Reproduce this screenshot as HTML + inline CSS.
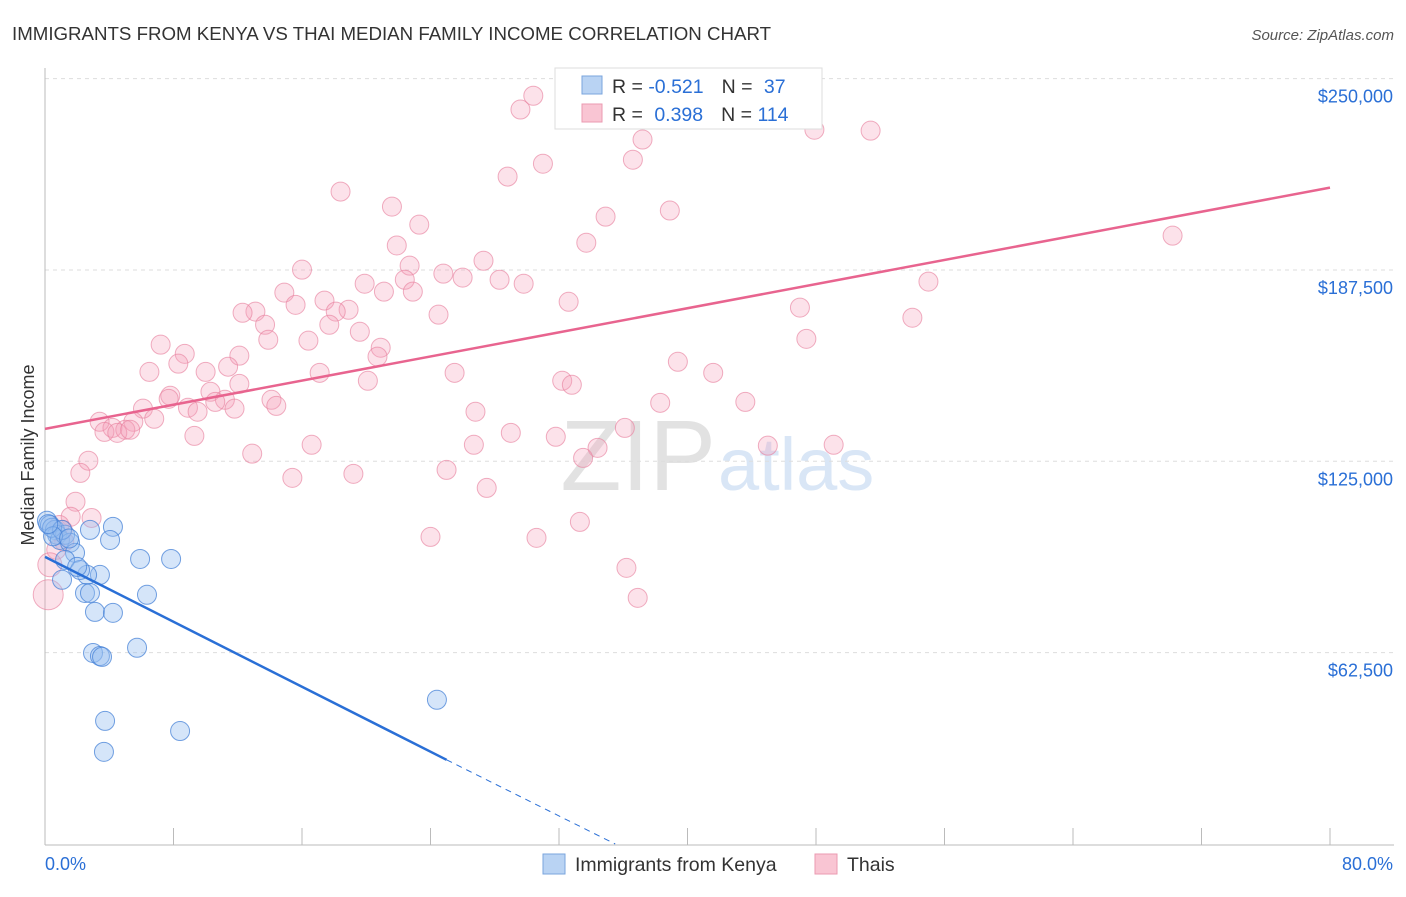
<!DOCTYPE html>
<html><head><meta charset="utf-8">
<style>
body{margin:0;background:#fff;font-family:"Liberation Sans",sans-serif;}
svg text{font-family:"Liberation Sans",sans-serif;}
</style></head>
<body>
<svg id="chart" width="1406" height="892">
  <text x="12" y="40" font-size="18.7" fill="#333">IMMIGRANTS FROM KENYA VS THAI MEDIAN FAMILY INCOME CORRELATION CHART</text>
  <text x="1394" y="40" font-size="15" fill="#555" font-style="italic" text-anchor="end">Source: ZipAtlas.com</text>
  <text x="716" y="490" font-size="100" fill="#e2e2e2" text-anchor="end" font-family="Liberation Serif">ZIP</text>
  <text x="718" y="490" font-size="74" fill="#d9e6f6">atlas</text>
  <text transform="translate(34,455) rotate(-90)" font-size="18" fill="#333" text-anchor="middle">Median Family Income</text>
  <g id="grid"></g>
  <g id="pts"></g>
  <g id="lines"></g>
  <g>
    <rect x="555" y="68" width="267" height="61" fill="#fff" stroke="#ddd"/>
    <rect x="582" y="76" width="20" height="18" fill="#b9d3f3" stroke="#7aa5de"/>
    <rect x="582" y="104" width="20" height="18" fill="#f9c5d3" stroke="#eb9ab0"/>
    <text x="612" y="93" font-size="19.5" fill="#333">R = <tspan fill="#2a6fd6">-0.521</tspan><tspan dx="18">N = </tspan><tspan dx="6" fill="#2a6fd6">37</tspan></text>
    <text x="612" y="121" font-size="19.5" fill="#333">R = <tspan dx="6" fill="#2a6fd6">0.398</tspan><tspan dx="18">N = </tspan><tspan fill="#2a6fd6">114</tspan></text>
  </g>
  <g>
    <rect x="543" y="854" width="22" height="20" fill="#b9d3f3" stroke="#7aa5de"/>
    <text x="575" y="871" font-size="19.5" fill="#333">Immigrants from Kenya</text>
    <rect x="815" y="854" width="22" height="20" fill="#f9c5d3" stroke="#eb9ab0"/>
    <text x="847" y="871" font-size="19.5" fill="#333">Thais</text>
  </g>
  <text x="45" y="870" font-size="18" fill="#2a6fd6">0.0%</text>
  <text x="1393" y="870" font-size="18" fill="#2a6fd6" text-anchor="end">80.0%</text>
</svg>
<script>
const yTicks=[62500,125000,187500,250000];
const yTickLabels=["$62,500","$125,000","$187,500","$250,000"];
const xTicks=[0,8,16,24,32,40,48,56,64,72,80];
const kenyaX=[0.12,0.31,0.62,0.75,0.93,1.25,1.56,0.44,1.06,2.8,4.23,4.05,1.87,1.25,1.06,3.42,2.62,2.18,2.49,2.8,5.92,7.85,6.35,3.11,4.23,2.99,3.42,3.55,5.73,3.74,3.67,8.41,24.4,0.5,1.5,0.2,2.0];
const kenyaY=[105.6,104.2,102.6,101.0,99.3,101.0,98.4,103.3,102.6,102.6,103.6,99.3,95.1,92.8,86.3,87.9,87.9,89.5,82.0,82.0,93.1,93.1,81.4,75.8,75.5,62.4,61.4,61.1,64.1,40.2,30.1,36.9,47.1,100.5,99.8,104.5,90.5];
const thaiX=[30.4,29.6,47.9,51.4,37.2,31.0,36.6,28.8,18.4,21.6,38.9,34.9,23.3,70.2,33.7,21.9,27.3,16.0,22.7,24.8,26.0,22.4,28.3,29.8,19.9,55.0,14.9,21.1,22.9,17.4,15.6,32.6,18.9,13.1,12.3,18.1,47.0,24.5,54.0,13.7,17.7,19.6,13.9,16.4,47.4,7.2,8.7,20.9,20.7,12.1,39.4,11.4,8.3,10.0,6.5,41.6,25.5,17.1,20.1,32.2,32.8,12.1,10.3,7.8,11.2,7.7,14.1,10.6,38.3,43.6,14.4,8.9,6.1,9.5,11.8,26.8,6.8,3.4,4.2,5.5,5.0,3.7,4.5,5.3,36.1,29.0,31.8,9.3,16.6,26.7,45.0,49.1,34.4,12.9,33.5,2.7,2.2,25.0,19.2,15.4,27.5,1.9,1.6,2.9,33.3,0.9,24.0,30.6,1.2,0.7,36.2,0.3,36.9,0.2,1.1];
const thaiY=[244.4,239.9,233.3,233.0,230.1,222.2,223.5,218.0,213.1,208.2,206.9,204.9,202.3,198.7,196.4,195.5,190.5,187.6,188.9,186.3,185.0,184.3,184.3,183.0,183.0,183.7,180.1,180.4,180.4,177.5,176.1,177.1,174.5,173.9,173.5,173.9,175.2,172.9,171.9,169.6,169.6,167.3,164.7,164.4,165.0,163.1,160.1,162.1,159.2,159.5,157.5,155.9,156.9,154.2,154.2,153.9,153.9,153.9,151.3,151.3,150.0,150.3,147.7,146.4,145.1,145.4,145.1,144.4,144.1,144.4,143.1,142.5,142.2,141.2,142.2,141.2,138.9,137.9,135.9,137.9,135.3,134.6,134.3,135.3,135.9,134.3,133.0,133.3,130.4,130.4,130.1,130.4,129.4,127.5,126.1,125.2,121.2,122.2,120.9,119.6,116.3,111.8,106.9,106.5,105.2,104.2,100.3,100.0,98.7,96.1,90.2,91.2,80.4,81.4,102.6];
const thaiBig=[0,0,0,0,0,0,0,0,0,0,0,0,0,0,0,0,0,0,0,0,0,0,0,0,0,0,0,0,0,0,0,0,0,0,0,0,0,0,0,0,0,0,0,0,0,0,0,0,0,0,0,0,0,0,0,0,0,0,0,0,0,0,0,0,0,0,0,0,0,0,0,0,0,0,0,0,0,0,0,0,0,0,0,0,0,0,0,0,0,0,0,0,0,0,0,0,0,0,0,0,0,0,0,0,0,0,0,0,0,0,0,1,0,2,0];
const kenyaLine=[[0,93.8],[25,27.5],[35.5,0]];
const thaiLine=[[0,135.6],[80,214.4]];
const X0=45,X1=1330,YB=844,YT=78.6;
const sx=v=>X0+(v/80)*(X1-X0);
const sy=v=>YB-(v/250000)*(YB-YT);
const NS="http://www.w3.org/2000/svg";
function mk(tag,attrs,parent){const e=document.createElementNS(NS,tag);for(const k in attrs)e.setAttribute(k,attrs[k]);parent.appendChild(e);return e;}
const grid=document.getElementById('grid');
yTicks.forEach((t,i)=>{
  const l=mk('line',{x1:X0,x2:1394,y1:sy(t),y2:sy(t),stroke:'#ddd','stroke-dasharray':'4,4'},grid);
  
  
  const tx=mk('text',{x:1393,y:sy(t)+24,'font-size':18,fill:'#2a6fd6','text-anchor':'end'},grid);
  tx.textContent=yTickLabels[i];
  
  
});
const ax=mk('line',{x1:X0,x2:1394,y1:YB+1,y2:YB+1,stroke:'#bbb'},grid);


const ay=mk('line',{x1:X0,x2:X0,y1:68,y2:YB+1,stroke:'#bbb'},grid);


xTicks.forEach(t=>{
  const l=mk('line',{x1:sx(t),x2:sx(t),y1:828,y2:YB+1,stroke:'#bbb'},grid);
  
  
});
const pts=document.getElementById('pts');
thaiX.forEach((x,i)=>{
  const r=thaiBig[i]===2?15:thaiBig[i]===1?12:9.5;
  const c=mk('circle',{cx:sx(x),cy:sy(thaiY[i]*1000),r:r,fill:'rgba(244,160,185,0.3)',stroke:'rgba(232,130,160,0.65)','stroke-width':1},pts);
  
  
});
kenyaX.forEach((x,i)=>{
  const c=mk('circle',{cx:sx(x),cy:sy(kenyaY[i]*1000),r:9.5,fill:'rgba(150,190,240,0.4)',stroke:'rgba(70,130,215,0.75)','stroke-width':1},pts);
  
  
});
const lines=document.getElementById('lines');
const tl=mk('line',{x1:sx(thaiLine[0][0]),y1:sy(thaiLine[0][1]*1000),x2:sx(thaiLine[1][0]),y2:sy(thaiLine[1][1]*1000),stroke:'#e8648f','stroke-width':2.5},lines);


const kl=mk('line',{x1:sx(kenyaLine[0][0]),y1:sy(kenyaLine[0][1]*1000),x2:sx(kenyaLine[1][0]),y2:sy(kenyaLine[1][1]*1000),stroke:'#2a6fd6','stroke-width':2.5},lines);


const kd=mk('line',{x1:sx(kenyaLine[1][0]),y1:sy(kenyaLine[1][1]*1000),x2:sx(kenyaLine[2][0]),y2:sy(kenyaLine[2][1]*1000),stroke:'#2a6fd6','stroke-width':1,'stroke-dasharray':'6,5'},lines);


</script>
</body></html>
